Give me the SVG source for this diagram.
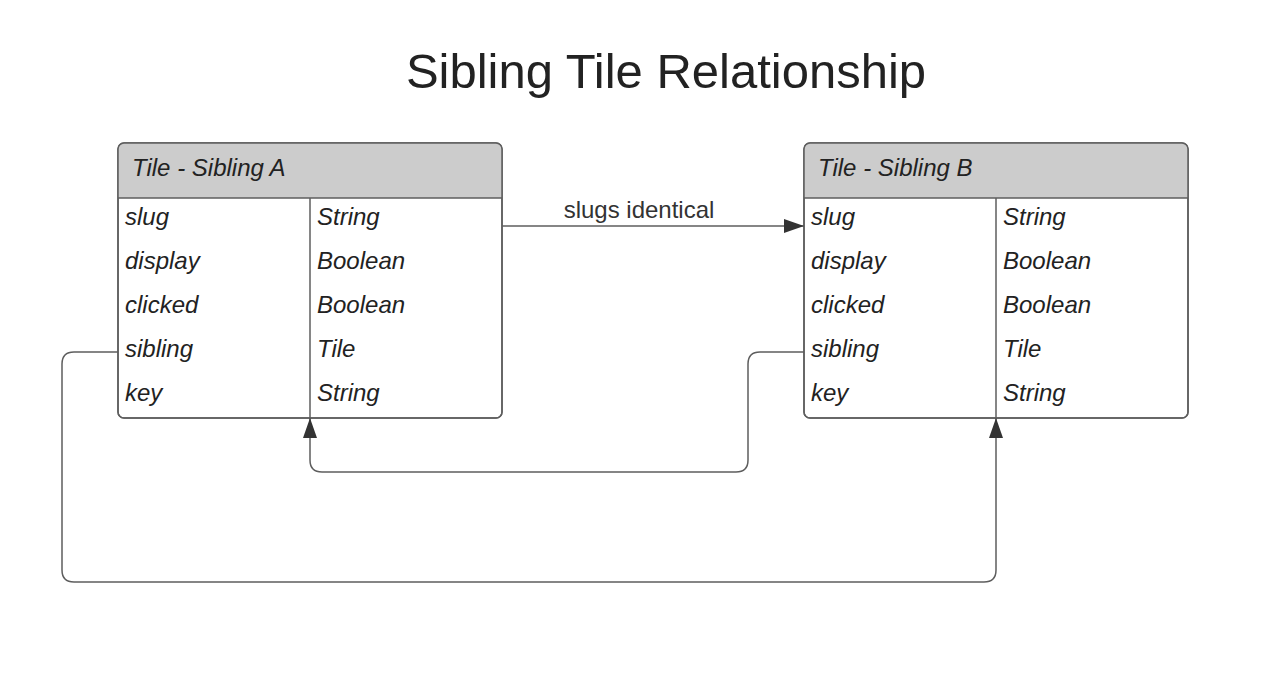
<svg xmlns="http://www.w3.org/2000/svg" width="1284" height="680" viewBox="0 0 1284 680">
<style>
.box{fill:#fff;stroke:#5e5e5e;stroke-width:1.5}
.hdr{fill:#cccccc}
.ln{stroke:#5e5e5e;stroke-width:1.5;fill:none}
.t{font-family:"Liberation Sans",Arial,sans-serif;font-style:italic;font-size:24px;fill:#222}
.lbl{font-family:"Liberation Sans",Arial,sans-serif;font-size:24px;fill:#333}
.title{font-family:"Liberation Sans",Arial,sans-serif;font-size:49px;fill:#222}
</style>
<defs>
<marker id="ah" viewBox="0 0 20 14" refX="20" refY="7" markerWidth="20" markerHeight="14" markerUnits="userSpaceOnUse" orient="auto">
<path d="M0,0 L20,7 L0,14 Z" fill="#333"/>
</marker>
<clipPath id="ca"><rect x="118" y="143" width="384" height="275" rx="6"/></clipPath>
<clipPath id="cb"><rect x="804" y="143" width="384" height="275" rx="6"/></clipPath>
</defs>
<rect width="1284" height="680" fill="#fff"/>
<text class="title" x="666" y="88" text-anchor="middle">Sibling Tile Relationship</text>
<g id="tileA">
<rect class="box" x="118" y="143" width="384" height="275" rx="6"/>
<rect class="hdr" x="118" y="143" width="384" height="55" clip-path="url(#ca)"/>
<rect x="118" y="143" width="384" height="275" rx="6" fill="none" stroke="#5e5e5e" stroke-width="1.5"/>
<line class="ln" x1="118" y1="198" x2="502" y2="198"/>
<line class="ln" x1="310" y1="198" x2="310" y2="418"/>
<text class="t" x="132" y="176">Tile - Sibling A</text>
<text class="t" x="125" y="225">slug</text><text class="t" x="317" y="225">String</text>
<text class="t" x="125" y="269">display</text><text class="t" x="317" y="269">Boolean</text>
<text class="t" x="125" y="313">clicked</text><text class="t" x="317" y="313">Boolean</text>
<text class="t" x="125" y="357">sibling</text><text class="t" x="317" y="357">Tile</text>
<text class="t" x="125" y="401">key</text><text class="t" x="317" y="401">String</text>
</g>
<g id="tileB">
<rect class="box" x="804" y="143" width="384" height="275" rx="6"/>
<rect class="hdr" x="804" y="143" width="384" height="55" clip-path="url(#cb)"/>
<rect x="804" y="143" width="384" height="275" rx="6" fill="none" stroke="#5e5e5e" stroke-width="1.5"/>
<line class="ln" x1="804" y1="198" x2="1188" y2="198"/>
<line class="ln" x1="996" y1="198" x2="996" y2="418"/>
<text class="t" x="818" y="176">Tile - Sibling B</text>
<text class="t" x="811" y="225">slug</text><text class="t" x="1003" y="225">String</text>
<text class="t" x="811" y="269">display</text><text class="t" x="1003" y="269">Boolean</text>
<text class="t" x="811" y="313">clicked</text><text class="t" x="1003" y="313">Boolean</text>
<text class="t" x="811" y="357">sibling</text><text class="t" x="1003" y="357">Tile</text>
<text class="t" x="811" y="401">key</text><text class="t" x="1003" y="401">String</text>
</g>
<g id="connectors">
<path class="ln" d="M502,226 L804,226" marker-end="url(#ah)"/>
<text class="lbl" x="639" y="218" text-anchor="middle">slugs identical</text>
<path class="ln" d="M804,352 L760,352 Q748,352 748,364 L748,460 Q748,472 736,472 L322,472 Q310,472 310,460 L310,418" marker-end="url(#ah)"/>
<path class="ln" d="M118,352 L74,352 Q62,352 62,364 L62,570 Q62,582 74,582 L984,582 Q996,582 996,570 L996,418" marker-end="url(#ah)"/>
</g>
</svg>
